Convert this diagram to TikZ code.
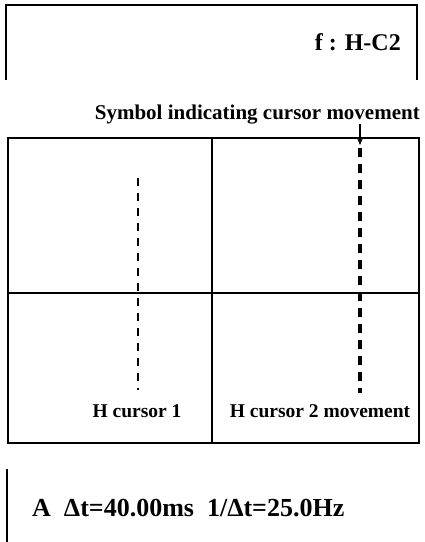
\documentclass[tikz,border=0pt]{standalone}
\usepackage{fontspec}
\setmainfont{Liberation Serif}
\usetikzlibrary{arrows.meta}
\begin{document}
\begin{tikzpicture}[x=1pt,y=-1pt,
  frame/.style={line width=1.3pt},
  lbl/.style={font=\bfseries\fontsize{19.5}{22}\selectfont, inner sep=0pt},
  cur1/.style={line width=2pt, dash pattern=on 8pt off 7pt},
  cur2/.style={line width=4pt, dash pattern=on 9pt off 7pt}]
\useasboundingbox (0,0) rectangle (425,542);
% top box
\draw[frame] (6,80) -- (6,5) -- (417,5) -- (417,80);
\node[font=\bfseries\fontsize{24}{28}\selectfont, anchor=east, inner sep=0pt] (title) at (401,42) {f : H-C2};
% symbol label
\node[font=\bfseries\fontsize{21}{24}\selectfont, inner sep=0pt, anchor=east] (sym) at (420,115) {Symbol indicating cursor movement};
% main box
\draw[frame] (8,138) rectangle (419,443);
\draw[frame] (212,138) -- (212,443);
\draw[frame] (8,293) -- (419,293);
% cursors
\coordinate (c1top) at (138,178);
\coordinate (c1bot) at (138,390);
\draw[cur1] (c1top) -- (c1bot);
\coordinate (c2top) at (360,148);
\coordinate (c2bot) at (360,393);
\draw[cur2] (c2top) -- (c2bot);
\coordinate (arrtip) at (360,145);
\coordinate (arrtail) at (360,124);
\draw[line width=1.2pt, -{Stealth[length=7pt,width=6pt]}] (arrtail) -- (arrtip);
% labels
\node[lbl] (h1) at (137,411) {H cursor 1};
\node[lbl] (h2) at (320,411) {H cursor 2 movement};
% bottom
\draw[frame] (7,469) -- (7,542);
\node[font=\bfseries\fontsize{26}{30}\selectfont, anchor=west, inner sep=0pt] (meas) at (32,508) {A\ \ Δt=40.00ms\ \ 1/Δt=25.0Hz};
\end{tikzpicture}
\end{document}
